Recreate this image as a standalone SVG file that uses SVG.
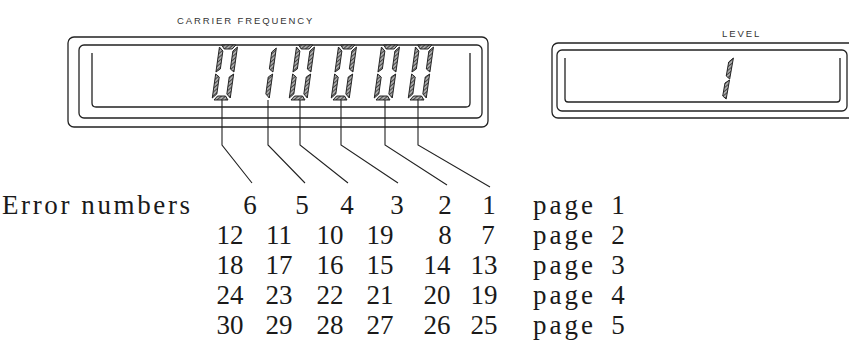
<svg xmlns="http://www.w3.org/2000/svg" xmlns:xlink="http://www.w3.org/1999/xlink" width="849" height="346" viewBox="0 0 849 346">
<style>
.box{fill:none;stroke:#222;stroke-width:1.3}
.seg{fill:url(#hatch);stroke:#1a1a1a;stroke-width:0.9}
.lbl{font-family:"Liberation Sans",Arial,sans-serif;font-size:9.5px;fill:#333;letter-spacing:1.9px}
.tw{font-family:"Liberation Serif","Times New Roman",serif;font-size:27px;fill:#1a1a1a}
.num{text-anchor:middle}
.con{fill:none;stroke:#222;stroke-width:1.1}
</style>
<defs>
<pattern id="hatch" width="3" height="3" patternUnits="userSpaceOnUse" patternTransform="rotate(45)">
<rect width="3" height="3" fill="#aaa"/>
<line x1="0" y1="0" x2="0" y2="3" stroke="#222" stroke-width="1.5"/>
</pattern>
<g id="d0" transform="skewX(-8)">
<polygon class="seg" points="2,-55 16,-55 13,-51 5,-51"/>
<polygon class="seg" points="0,-53 4,-49 4,-31 0,-28"/>
<polygon class="seg" points="18,-53 14,-49 14,-31 18,-28"/>
<polygon class="seg" points="0,-26 4,-23 4,-6 0,-2"/>
<polygon class="seg" points="18,-26 14,-23 14,-6 18,-2"/>
<polygon class="seg" points="2,0 16,0 13,-4 5,-4"/>
</g>
<g id="d1" transform="skewX(-8)">
<polygon class="seg" points="4,-52 0,-48 0,-31 4,-28"/>
<polygon class="seg" points="4,-26 0,-23 0,-6 4,-2"/>
</g>
<g id="d1s" transform="skewX(-10)">
<polygon class="seg" points="4,-42 0,-38 0,-24 4,-21"/>
<polygon class="seg" points="4,-20 0,-17 0,-4 4,-1"/>
</g>
</defs>

<g id="carrier-frequency-display">
<text class="lbl" x="177" y="24">CARRIER  FREQUENCY</text>
<rect class="box" x="68" y="37" width="420" height="90" rx="6"/>
<rect class="box" x="79" y="45" width="403" height="73" rx="5"/>
<path class="box" d="M92,53 V103 Q92,107 96,107 H466 Q470,107 470,103 V53"/>
<use xlink:href="#d0" x="212" y="100"/>
<use xlink:href="#d1" x="265" y="100"/>
<use xlink:href="#d0" x="289" y="100"/>
<use xlink:href="#d0" x="331" y="100"/>
<use xlink:href="#d0" x="374" y="100"/>
<use xlink:href="#d0" x="408" y="100"/>
</g>

<g id="level-display">
<text class="lbl" x="722" y="37">LEVEL</text>
<rect class="box" x="552" y="43" width="310" height="75" rx="6"/>
<rect class="box" x="557" y="50" width="290" height="61" rx="5"/>
<path class="box" d="M565,58 V99 Q565,102 568,102 H837 Q840,102 840,99 V58"/>
<use xlink:href="#d1s" x="722" y="100"/>
</g>

<g id="connectors">
<polyline class="con" points="222,100 222,145 252,183"/>
<polyline class="con" points="268,100 268,145 305,183"/>
<polyline class="con" points="300,100 300,145 348,183"/>
<polyline class="con" points="341,100 341,145 398,183"/>
<polyline class="con" points="385,100 385,145 447,185"/>
<polyline class="con" points="418,100 418,145 490,187"/>
</g>

<g id="error-table">
<text class="tw" x="2" y="214" textLength="188" lengthAdjust="spacing">Error numbers</text>
<text class="tw num" x="250" y="214">6</text>
<text class="tw num" x="302" y="214">5</text>
<text class="tw num" x="347" y="214">4</text>
<text class="tw num" x="397" y="214">3</text>
<text class="tw num" x="445" y="214">2</text>
<text class="tw num" x="489" y="214">1</text>

<text class="tw num" x="230" y="244">12</text>
<text class="tw num" x="279" y="244">11</text>
<text class="tw num" x="330" y="244">10</text>
<text class="tw num" x="380" y="244">19</text>
<text class="tw num" x="445" y="244">8</text>
<text class="tw num" x="488" y="244">7</text>

<text class="tw num" x="230" y="274">18</text>
<text class="tw num" x="279" y="274">17</text>
<text class="tw num" x="330" y="274">16</text>
<text class="tw num" x="380" y="274">15</text>
<text class="tw num" x="437" y="274">14</text>
<text class="tw num" x="484" y="274">13</text>

<text class="tw num" x="230" y="304">24</text>
<text class="tw num" x="279" y="304">23</text>
<text class="tw num" x="330" y="304">22</text>
<text class="tw num" x="380" y="304">21</text>
<text class="tw num" x="437" y="304">20</text>
<text class="tw num" x="484" y="304">19</text>

<text class="tw num" x="230" y="334">30</text>
<text class="tw num" x="279" y="334">29</text>
<text class="tw num" x="330" y="334">28</text>
<text class="tw num" x="380" y="334">27</text>
<text class="tw num" x="437" y="334">26</text>
<text class="tw num" x="484" y="334">25</text>

<text class="tw" x="533" y="214" textLength="60" lengthAdjust="spacing">page</text>
<text class="tw" x="533" y="244" textLength="60" lengthAdjust="spacing">page</text>
<text class="tw" x="533" y="274" textLength="60" lengthAdjust="spacing">page</text>
<text class="tw" x="533" y="304" textLength="60" lengthAdjust="spacing">page</text>
<text class="tw" x="533" y="334" textLength="60" lengthAdjust="spacing">page</text>
<text class="tw num" x="618" y="214">1</text>
<text class="tw num" x="618" y="244">2</text>
<text class="tw num" x="618" y="274">3</text>
<text class="tw num" x="618" y="304">4</text>
<text class="tw num" x="618" y="334">5</text>
</g>
</svg>
